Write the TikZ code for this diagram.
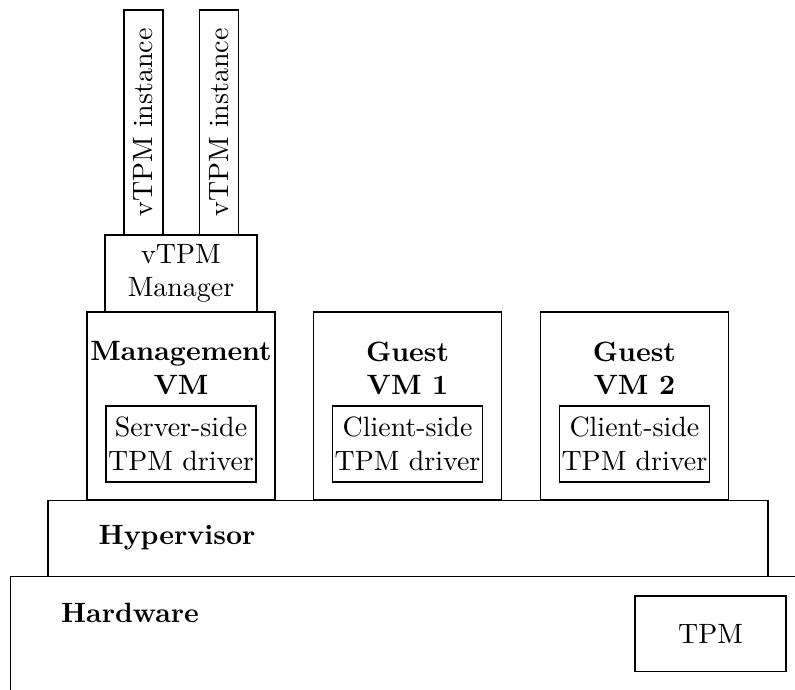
\documentclass[tikz,border=0pt]{standalone}
\tikzstyle{layer}=[draw, rectangle, inner sep=0pt]
\tikzstyle{vmbox}=[layer, minimum width=2.365cm, minimum height=2.365cm]
\tikzstyle{drvbox}=[layer, align=center, minimum width=1.887cm, minimum height=0.956cm]
\tikzstyle{instbox}=[layer, rotate=90, minimum width=2.83cm, minimum height=0.49cm]
\tikzstyle{title}=[font=\bfseries, align=center]
\begin{document}
\begin{tikzpicture}
	\useasboundingbox (0,0) rectangle (10,8.667);

	%%% Hardware and hypervisor
	\node[layer, anchor=north west, minimum width=10cm, minimum height=2cm] (hw) at (0.126, 1.421) {};
	\node[title] (hwtxt) at (1.635, 0.956) {Hardware};
	\node[layer, minimum width=1.900cm, minimum height=0.944cm] (tpm) at (8.937, 0.698) {TPM};
	\node[layer, minimum width=9.056cm, minimum height=0.956cm] (hyp) at (5.132, 1.899) {};
	\node[title] (hyptxt) at (2.226, 1.899) {Hypervisor};

	%%% Domains
	\node[vmbox]  (mvm) at (2.277, 3.560) {};
	\node[vmbox]  (gvm1) at (5.126, 3.560) {};
	\node[vmbox]  (gvm2) at (7.980, 3.560) {};
	\node[title]  (mvmtxt) at (2.277, 4.035) {Management\\VM};
	\node[title] (gvm1txt) at (5.126, 4.035) {Guest\\VM 1};
	\node[title] (gvm2txt) at (7.980, 4.035) {Guest\\VM 2};

	% drivers
	\node[drvbox]  (sdrv) at (2.277, 3.082) {Server-side\\TPM driver};
	\node[drvbox] (cdrv1) at (5.126, 3.082) {Client-side\\TPM driver};
	\node[drvbox] (cdrv2) at (7.980, 3.082) {Client-side\\TPM driver};

	%%% vTPM
	\node[layer, align=center, minimum width=1.912cm, minimum height=0.969cm] (mgr) at (2.277, 5.226) {vTPM\\Manager};
	\node[instbox] (inst1) at (1.805, 7.126) {vTPM instance};
	\node[instbox] (inst2) at (2.755, 7.126) {vTPM instance};
\end{tikzpicture}
\end{document}
